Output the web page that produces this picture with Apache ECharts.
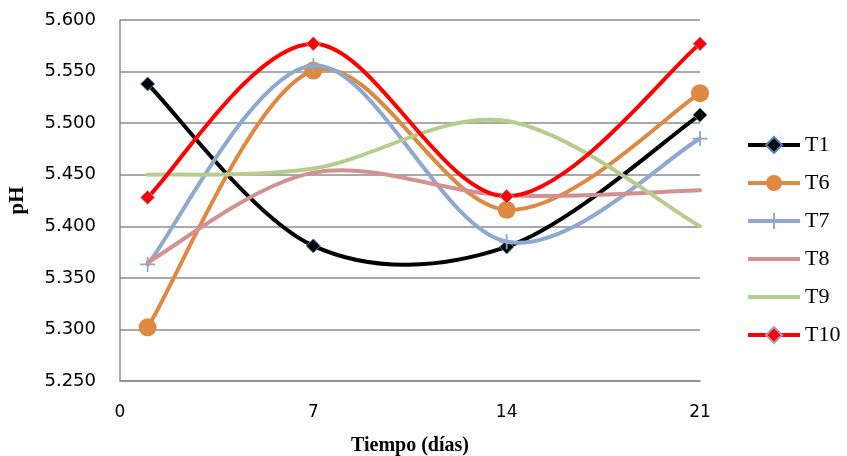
<!DOCTYPE html>
<html><head><meta charset="utf-8">
<script src="https://cdn.jsdelivr.net/npm/echarts@6/dist/echarts.min.js"></script>
<style>html,body{margin:0;padding:0;background:#fff}#c{width:847px;height:456px}</style>
</head><body><div id="c"></div>
<script>
const days = [1, 7, 14, 21];
const xTicks = [0, 7, 14, 21];
const T1 = [5.538, 5.381, 5.380, 5.508];
const T6 = [5.302, 5.551, 5.416, 5.529];
const T7 = [5.363, 5.556, 5.385, 5.485];
const T8 = [5.365, 5.452, 5.430, 5.435];
const T9 = [5.450, 5.456, 5.502, 5.400];
const T10 = [5.428, 5.577, 5.429, 5.577];
const names = ['T1','T6','T7','T8','T9','T10'];
const values = [T1, T6, T7, T8, T9, T10];

const colors = ['#000000','#DE8841','#8EA8D0','#D39191','#B6CD8E','#FF0000'];
const plus = 'path://M4.4,0h1.2v4.4h4.4v1.2h-4.4v4.4h-1.2v-4.4h-4.4v-1.2h4.4z';
const symbols = ['diamond','circle',plus,'circle','circle','diamond'];
const hasMarker = [true,true,true,false,false,true];
const sizes = [14,18,15,0,0,14];
const borders = [{borderColor:'#4F81BD',borderWidth:1},{},{},{opacity:0},{opacity:0},{borderColor:'#A99BC8',borderWidth:1}];

// Excel-like smoothed curve (Catmull-Rom style Bezier) drawn through the axes' scales
function curveRenderer(idx){
  return function(params, api){
    if (params.dataIndex !== 0) return null;
    const pts = days.map((d,k)=>api.coord([d, values[idx][k]]));
    const n = pts.length;
    const P = i => pts[Math.max(0, Math.min(n-1, i))];
    let path = 'M' + pts[0][0] + ',' + pts[0][1];
    for (let i=0;i<n-1;i++){
      const p0=P(i-1), p1=P(i), p2=P(i+1), p3=P(i+2);
      const c1=[p1[0]+(p2[0]-p0[0])/6, p1[1]+(p2[1]-p0[1])/6];
      const c2=[p2[0]-(p3[0]-p1[0])/6, p2[1]-(p3[1]-p1[1])/6];
      path += 'C'+c1[0]+','+c1[1]+','+c2[0]+','+c2[1]+','+p2[0]+','+p2[1];
    }
    return {type:'path', shape:{pathData:path},
      style:{fill:null, stroke:colors[idx], lineWidth:4, lineCap:'round', lineJoin:'round'}};
  };
}

const series = [];
names.forEach((n,i)=>{
  series.push({
    name:n+'_curve', type:'custom', renderItem:curveRenderer(i),
    data: days.map((d,k)=>[d, values[i][k]]),
    z: 2+i*2, silent:true
  });
  series.push({
    name:n, type:'line',
    data: days.map((d,k)=>[d, values[i][k]]),
    symbol: symbols[i], symbolSize: sizes[i], showSymbol: hasMarker[i],
    lineStyle:{color:colors[i], width:4, opacity:0},
    itemStyle:Object.assign({color:colors[i]}, borders[i]),
    z: 3+i*2
  });
});

const chart = echarts.init(document.getElementById('c'));
chart.setOption({
  animation:false,
  backgroundColor:'#fff',
  grid:{left:120, right:147, top:20, bottom:75, containLabel:false, outerBoundsMode:'none'},
  legend:{
    orient:'vertical', left:741, top:129, itemGap:16, itemWidth:52, itemHeight:20,
    lineStyle:{opacity:1, width:4},
    textStyle:{fontFamily:'Liberation Serif', fontSize:22, color:'#000'},
    data: names
  },
  xAxis:{
    type:'value', min:0, max:21, interval:7,
    name:'Tiempo (días)', nameLocation:'middle', nameGap:55,
    nameTextStyle:{fontFamily:'Liberation Serif', fontWeight:'bold', fontSize:20, color:'#000'},
    axisLine:{show:true, lineStyle:{color:'#8C8C8C', width:1.5}},
    axisTick:{show:false},
    splitLine:{show:false},
    axisLabel:{fontFamily:'DejaVu Sans', fontSize:17, color:'#000', margin:23,
      formatter:v=>xTicks.includes(v)?String(v):''}
  },
  yAxis:{
    type:'value', min:5.25, max:5.6, interval:0.05,
    name:'pH', nameLocation:'middle', nameGap:92, nameRotate:90,
    nameTextStyle:{fontFamily:'Liberation Serif', fontWeight:'bold', fontSize:21, color:'#000'},
    axisLine:{show:true, lineStyle:{color:'#8C8C8C', width:1.5}},
    axisTick:{show:false},
    splitLine:{show:true, lineStyle:{color:'#8C8C8C', width:1.5}},
    axisLabel:{fontFamily:'DejaVu Sans', fontSize:18, color:'#000', margin:24,
      formatter:v=>v.toFixed(3)}
  },
  series: series
});
</script></body></html>
